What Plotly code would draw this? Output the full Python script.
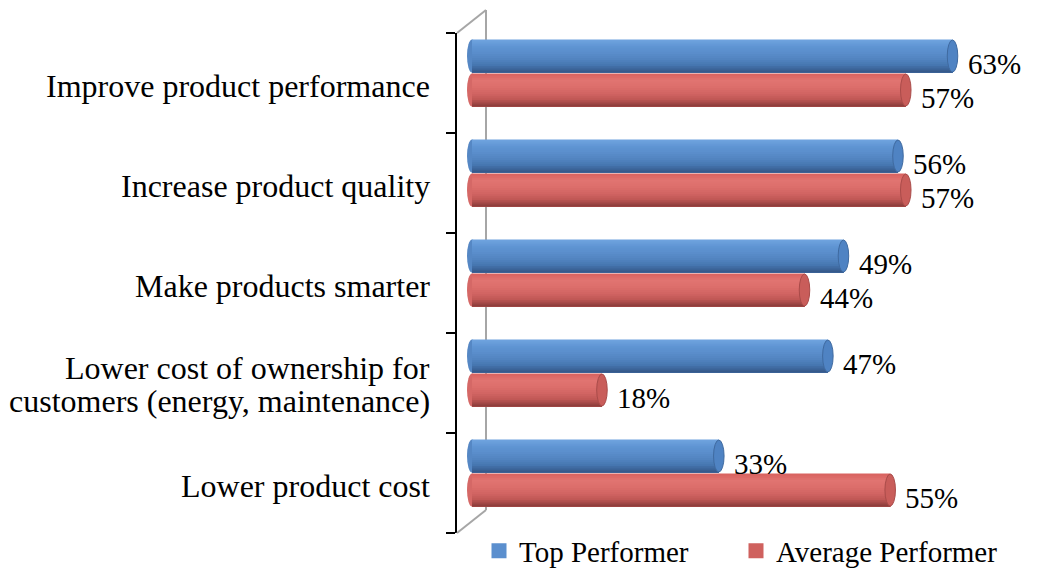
import plotly.graph_objects as go

categories = [
    "Improve product performance",
    "Increase product quality",
    "Make products smarter",
    "Lower cost of ownership for<br>customers (energy, maintenance)",
    "Lower product cost",
]
top_performer = [63, 56, 49, 47, 33]
average_performer = [57, 57, 44, 18, 55]
series_names = ["Top Performer", "Average Performer"]

FONT = "Liberation Serif"
FS_CAT = 32
FS_VAL = 29
FS_LEG = 29

# the page body has an 8px margin: figure coordinates = page coordinates - 8
W, H = 1037, 561


def interp(stops, n):
    def h2r(h):
        return [int(h[i:i + 2], 16) for i in (1, 3, 5)]
    out = []
    for k in range(n):
        t = k / (n - 1) * (len(stops) - 1)
        j = min(int(t), len(stops) - 2)
        f = t - j
        a, b = h2r(stops[j]), h2r(stops[j + 1])
        out.append("#%02x%02x%02x" % tuple(round(a[m] + (b[m] - a[m]) * f) for m in range(3)))
    return out


blue_grad = interp(["#6ea2de", "#5f95d3", "#5a8dcb", "#5284c0", "#4676b0", "#36598a"], 16)
red_grad = interp(["#d96461", "#e17471", "#dc6e6b", "#d26563", "#c05856", "#8f3e3c"], 16)
cap_colors = ["#4f83c3", "#c95d5a"]
cap_lines = ["#3f6aa0", "#a94b49"]
legend_colors = ["#5b8fce", "#cf615e"]
offsets = [-0.27, 0.07]   # bar centre offset from category index (y units)
BAR_H = 0.33
CAP_W = 1.35              # x units for cylinder end caps
BASE = 0.65

fig = go.Figure()
shapes = []
annotations = []

idx = list(range(len(categories)))
for s, (vals, grad) in enumerate([(top_performer, blue_grad), (average_performer, red_grad)]):
    K = len(grad)
    centers = [i + offsets[s] for i in idx]
    for k, col in enumerate(grad):
        # nested strips: each covers from its own top edge down to the bar bottom
        wk = BAR_H * (K - k) / K
        ys = [c + BAR_H / 2 - wk / 2 for c in centers]
        fig.add_trace(go.Bar(
            orientation="h",
            y=ys,
            x=[v - CAP_W / 2 - BASE for v in vals],
            base=BASE,
            width=wk,
            marker=dict(color=col, line=dict(width=0)),
            showlegend=False,
            hoverinfo="skip",
        ))
    fig.add_trace(go.Scatter(
        x=[None], y=[None], mode="markers", name=series_names[s],
        marker=dict(color=legend_colors[s], symbol="square", size=15),
        showlegend=True,
        legend="legend" if s == 0 else "legend2",
    ))
    for c, v in zip(centers, vals):
        shapes.append(dict(type="circle", xref="x", yref="y", layer="below",
                           x0=0, x1=2 * BASE, y0=c - BAR_H / 2, y1=c + BAR_H / 2,
                           fillcolor=grad[len(grad) // 2], line=dict(width=0)))
        shapes.append(dict(type="circle", xref="x", yref="y", layer="above",
                           x0=v - CAP_W, x1=v, y0=c - BAR_H / 2 + 0.005, y1=c + BAR_H / 2 - 0.005,
                           fillcolor=cap_colors[s], line=dict(width=1, color=cap_lines[s])))
        annotations.append(dict(x=v, y=c, xref="x", yref="y", text=f"{v}%",
                                showarrow=False, xanchor="left", yanchor="middle",
                                xshift=8, yshift=-8,
                                font=dict(family=FONT, size=FS_VAL, color="black")))

for i, lab in enumerate(categories):
    lines = lab.split("<br>")
    if len(lines) == 1:
        ypos = [i + 0.03]
    else:
        ypos = [i - 0.155, i + 0.175]
    for ln, yp in zip(lines, ypos):
        annotations.append(dict(x=0, xref="paper", y=yp, yref="y", text=ln,
                                showarrow=False, xanchor="right", yanchor="middle",
                                xshift=-25,
                                font=dict(family=FONT, size=FS_CAT, color="black")))

wall_x = 29 / 588
shapes.append(dict(type="line", xref="paper", yref="paper", layer="below",
                   x0=wall_x, x1=wall_x, y0=0.046, y1=1.046,
                   line=dict(color="#a6a6a6", width=2)))
shapes.append(dict(type="line", xref="paper", yref="paper",
                   x0=0, x1=wall_x, y0=1, y1=1.046,
                   line=dict(color="#a6a6a6", width=2)))
shapes.append(dict(type="line", xref="paper", yref="paper",
                   x0=0, x1=wall_x, y0=0, y1=0.046,
                   line=dict(color="#a6a6a6", width=2)))

px_per = 7.79
x0 = -10 / px_per
x1 = x0 + 588 / px_per

leg_common = dict(orientation="h", xref="container", yref="container",
                  xanchor="left", yanchor="middle",
                  font=dict(family=FONT, size=FS_LEG, color="black"),
                  bgcolor="rgba(0,0,0,0)", borderwidth=0,
                  itemclick=False, itemdoubleclick=False)

fig.update_layout(
    width=W, height=H,
    margin=dict(l=449, r=0, t=25, b=36, autoexpand=False),
    paper_bgcolor="white", plot_bgcolor="white",
    barmode="overlay",
    font=dict(family=FONT),
    xaxis=dict(range=[x0, x1], visible=False, fixedrange=True),
    yaxis=dict(range=[4.5, -0.5], tickvals=[-0.5, 0.5, 1.5, 2.5, 3.5, 4.5],
               ticktext=[""] * 6, ticks="outside", ticklen=9, tickwidth=2,
               tickcolor="black", showline=True, linecolor="black", linewidth=2,
               showgrid=False, zeroline=False, fixedrange=True),
    shapes=shapes,
    annotations=annotations,
    showlegend=True,
    legend=dict(x=(479 - 8) / W, y=1 - (551 - 8) / H, **leg_common),
    legend2=dict(x=(736 - 8) / W, y=1 - (551 - 8) / H, **leg_common),
)

fig.write_html("out.html")
